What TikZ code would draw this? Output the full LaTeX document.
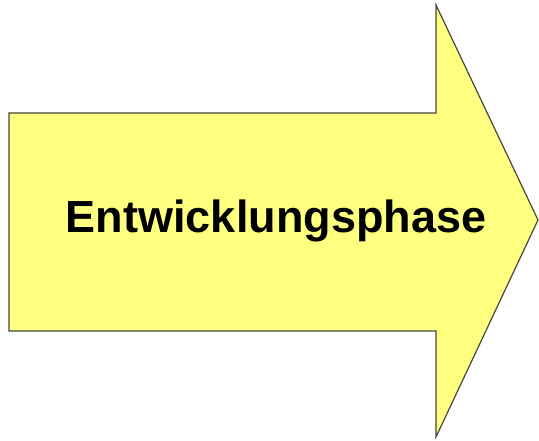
\documentclass[tikz,border=0pt]{standalone}
\usepackage{fontspec}
\setmainfont{Liberation Sans}
\definecolor{arrowyellow}{RGB}{255,255,128}
\definecolor{arrowedge}{RGB}{70,70,60}
\begin{document}
\begin{tikzpicture}[x=1pt,y=1pt]
	\useasboundingbox (0,0) rectangle (539,440); % Fixes the page size...

		\coordinate (BodyTL)  at (9,327);
		\coordinate (BodyBL)  at (9,109);
		\coordinate (NeckT)   at (436,327);
		\coordinate (NeckB)   at (436,109);
		\coordinate (HeadT)   at (436,435);
		\coordinate (HeadB)   at (436,3);
		\coordinate (Tip)     at (538,220);
		\draw[arrowedge,line width=1.2pt,line join=miter,fill=arrowyellow] (BodyTL) -- (NeckT) -- (HeadT) -- (Tip) -- (HeadB) -- (NeckB) -- (BodyBL) -- cycle;% Draw the arrow

		\node[anchor=base,inner sep=0pt,font=\fontsize{45}{50}\selectfont\bfseries] (Phase) at (276,207) {Entwicklungsphase};
	\end{tikzpicture}
\end{document}
